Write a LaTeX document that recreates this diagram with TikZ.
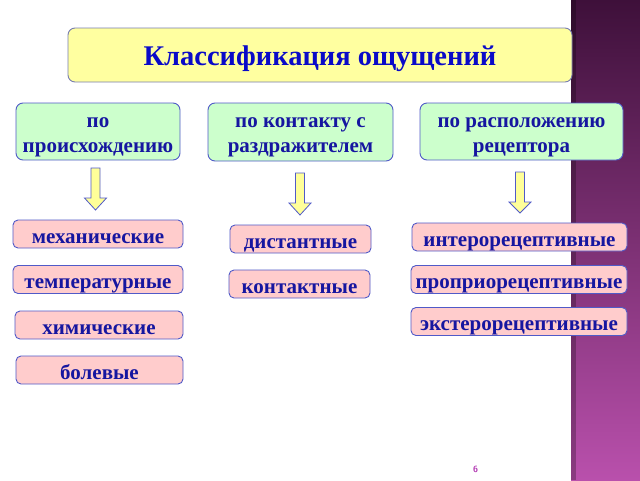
\documentclass[tikz,border=0pt]{standalone}
\usepackage{fontspec}
\setmainfont{Liberation Serif}
\definecolor{txtblue}{RGB}{22,22,160}
\definecolor{titleblue}{RGB}{10,10,200}
\definecolor{edgeblue}{RGB}{80,90,200}
\definecolor{titleedge}{RGB}{120,125,175}
\definecolor{titlefill}{RGB}{255,255,160}
\definecolor{greenfill}{RGB}{204,255,204}
\definecolor{pinkfill}{RGB}{255,204,204}
\definecolor{arrowfill}{RGB}{255,255,153}
\definecolor{stripTop}{RGB}{62,16,58}
\definecolor{stripBot}{RGB}{185,80,172}
\definecolor{pagenum}{RGB}{180,60,180}
\tikzset{
  box/.style={draw=edgeblue, line width=0.9pt, rounded corners=7pt, inner sep=0pt,
    align=center, text=txtblue, font=\fontsize{21}{25}\selectfont\bfseries},
  titlebox/.style={box, draw=titleedge, fill=titlefill, text=titleblue,
    font=\fontsize{28.5}{32}\selectfont\bfseries, text height=20pt, text depth=0pt},
  catbox/.style={box, fill=greenfill, text height=41pt, text depth=0pt},
  itembox/.style={box, fill=pinkfill, rounded corners=5pt, text height=18pt, text depth=0pt},
  blockarrow/.style={draw=edgeblue, line width=0.8pt, fill=arrowfill, line join=miter}
}
\newcommand{\yarrow}[4]{% x, top, headstart, tip
  \draw[blockarrow] (#1-4.5,#2) -- (#1+4.5,#2) -- (#1+4.5,#3) -- (#1+11,#3)
    -- (#1,#4) -- (#1-11,#3) -- (#1-4.5,#3) -- cycle;}
\begin{document}
\begin{tikzpicture}[x=1pt,y=-1pt]
\useasboundingbox (0,0) rectangle (640,480);
\fill[white] (0,0) rectangle (640,480);
% purple strip
\shade[top color=stripTop, bottom color=stripBot] (571,0) rectangle (640,480);
\fill[black, opacity=0.25] (571,0) rectangle (576,480);
% title
\node[titlebox, minimum width=504pt, minimum height=54pt] (title) at (320,55) {Классификация ощущений};
% categories
\node[catbox, minimum width=164pt, minimum height=57pt] (orig) at (98,131.5) {по\\происхождению};
\node[catbox, minimum width=185pt, minimum height=58pt] (cont) at (300.5,132) {по контакту с\\раздражителем};
\node[catbox, minimum width=203pt, minimum height=57pt] (loc) at (521.5,131.5) {по расположению\\рецептора};
% arrows
\yarrow{95.5}{168}{198}{210}
\yarrow{300}{173}{203}{215}
\yarrow{520}{172}{202}{213}
% items
\node[itembox, minimum width=170pt, minimum height=28pt] (mech) at (98,234) {механические};
\node[itembox, minimum width=170pt, minimum height=28pt] (temp) at (98,279.5) {температурные};
\node[itembox, minimum width=168pt, minimum height=28pt] (chem) at (99,325) {химические};
\node[itembox, minimum width=167pt, minimum height=28pt] (pain) at (99.5,370) {болевые};
\node[itembox, minimum width=141pt, minimum height=28pt] (dist) at (300.5,239) {дистантные};
\node[itembox, minimum width=141pt, minimum height=28pt] (kont) at (299.5,284) {контактные};
\node[itembox, minimum width=215pt, minimum height=28pt] (inter) at (519.5,237) {интерорецептивные};
\node[itembox, minimum width=216pt, minimum height=28pt] (prop) at (519,279.5) {проприорецептивные};
\node[itembox, minimum width=216pt, minimum height=28pt] (ekst) at (519,321.5) {экстерорецептивные};
% page number
\node[text=pagenum, font=\fontsize{9}{10}\selectfont\bfseries\sffamily, inner sep=0pt] (pg) at (475.5,469) {6};
\end{tikzpicture}
\end{document}
